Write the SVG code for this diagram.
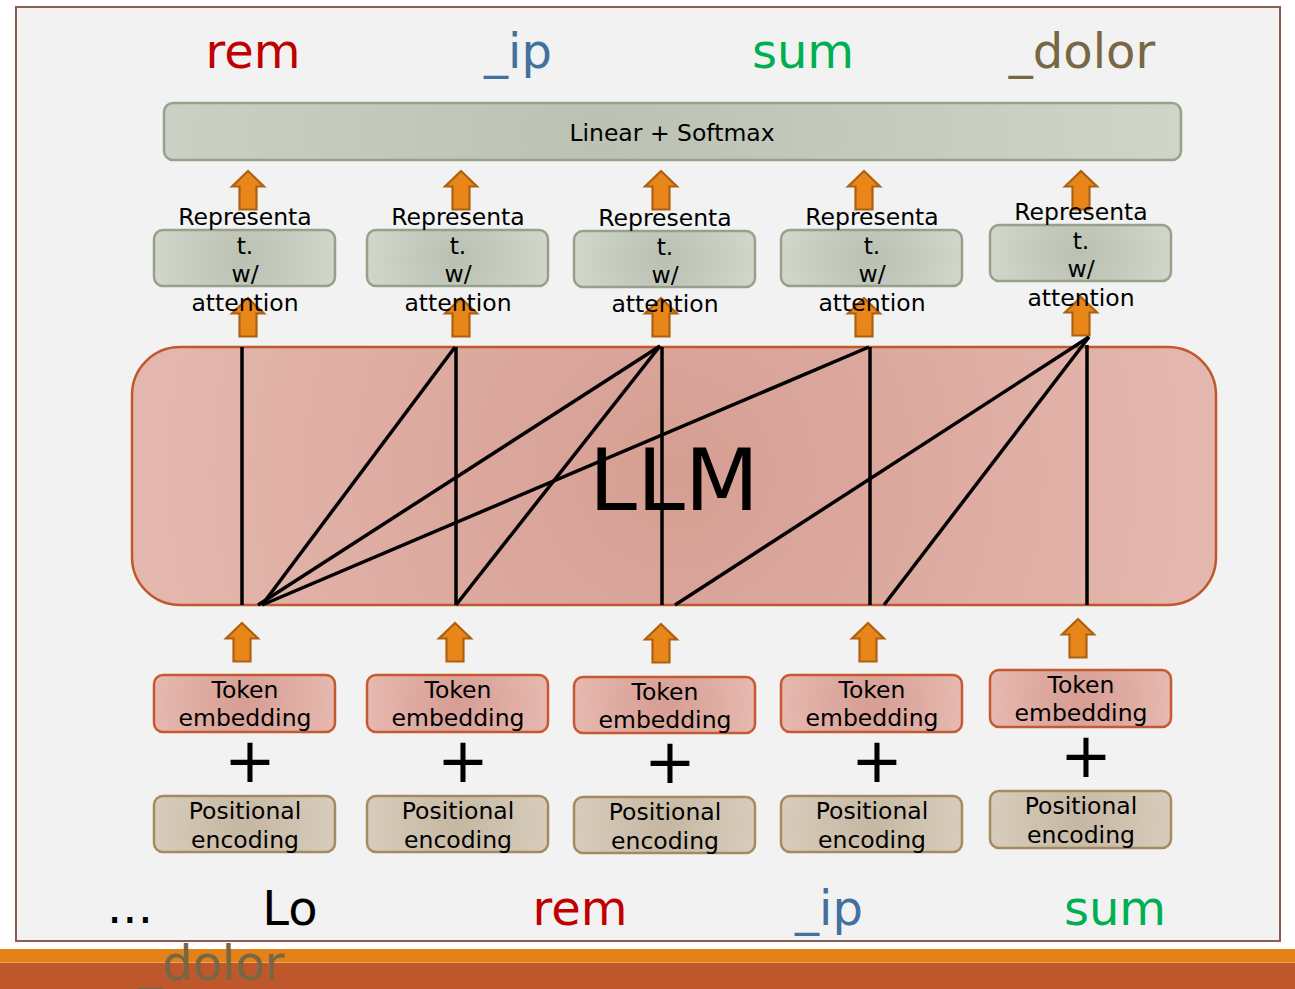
<svg xmlns="http://www.w3.org/2000/svg" xmlns:xlink="http://www.w3.org/1999/xlink" width="1295" height="989" viewBox="0 0 1295 989">
  <style>
    .lbl { font-family: "DejaVu Sans", "Liberation Sans", sans-serif; text-anchor: middle; fill: #000; }
    .small { font-size: 23.5px; }
    .word { font-family: "DejaVu Sans", "Liberation Sans", sans-serif; font-size: 48px; text-anchor: middle; }
    .red { fill: #C00000; }
    .blue { fill: #41729E; }
    .green { fill: #00B050; }
    .brown { fill: #776742; }
    .rep { fill: url(#gRep); stroke: #97A088; stroke-width: 2.5; }
    .tok { fill: url(#gTok); stroke: #C55A30; stroke-width: 2.5; }
    .pos { fill: url(#gPos); stroke: #A38B60; stroke-width: 2.5; }
    .plus { font-family: "DejaVu Sans", sans-serif; font-size: 62px; text-anchor: middle; fill: #000; }
    .att { stroke: #000; stroke-width: 3.5; fill: none; stroke-linecap: butt; }
    .blk { fill: #E8861A; stroke: #AD600F; stroke-width: 2.2; stroke-linejoin: miter; }
  </style>
  <defs>
    <!-- circular shading inside wide boxes: stretch the unit circle back by the box aspect -->
    <radialGradient id="gRep" cx="0.5" cy="0.5" r="0.5" gradientTransform="translate(0.5,0.5) scale(1,3.2) translate(-0.5,-0.5)">
      <stop offset="0" stop-color="#BAC0B2"/>
      <stop offset="1" stop-color="#D0D6CA"/>
    </radialGradient>
    <radialGradient id="gLin" cx="0.43" cy="0.5" r="0.6" gradientTransform="translate(0.43,0.5) scale(1,17.8) translate(-0.43,-0.5)">
      <stop offset="0" stop-color="#BBC1B3"/>
      <stop offset="1" stop-color="#D0D6CA"/>
    </radialGradient>
    <radialGradient id="gTok" cx="0.5" cy="0.5" r="0.5" gradientTransform="translate(0.5,0.5) scale(1,3.2) translate(-0.5,-0.5)">
      <stop offset="0" stop-color="#D69D93"/>
      <stop offset="1" stop-color="#E6B8AF"/>
    </radialGradient>
    <radialGradient id="gPos" cx="0.5" cy="0.5" r="0.5" gradientTransform="translate(0.5,0.5) scale(1,3.2) translate(-0.5,-0.5)">
      <stop offset="0" stop-color="#C5B7A1"/>
      <stop offset="1" stop-color="#D7CCBC"/>
    </radialGradient>
    <radialGradient id="gLLM" cx="0.5" cy="0.48" r="0.55" gradientTransform="translate(0.5,0.48) scale(1,4.2) translate(-0.5,-0.48)">
      <stop offset="0" stop-color="#D69E93"/>
      <stop offset="1" stop-color="#E6BAB1"/>
    </radialGradient>
    <!-- block arrow pointing up, tip at origin -->
    <path id="blkArrow" d="M0,0 L16,15.5 L8.5,15.5 L8.5,38.5 L-8.5,38.5 L-8.5,15.5 L-16,15.5 Z"/>
  </defs>

  <!-- page -->
  <rect x="0" y="0" width="1295" height="989" fill="#FFFFFF"/>
  <rect x="16" y="7" width="1264" height="934" fill="#F2F2F2" stroke="#8D5B4C" stroke-width="2"/>
  <rect x="0" y="949" width="1295" height="14" fill="#E4821A"/>
  <rect x="0" y="962" width="1295" height="1" fill="#EFA455"/>
  <rect x="0" y="963" width="1295" height="26" fill="#BE582C"/>

  <!-- predicted tokens -->
  <g id="outputs">
    <text class="word red" x="253" y="68">rem</text>
    <text class="word blue" x="518" y="68">_ip</text>
    <text class="word green" x="803" y="68">sum</text>
    <text class="word brown" x="1082" y="68">_dolor</text>
  </g>

  <g id="linear-softmax">
    <rect x="164" y="103" width="1017" height="57" rx="9" fill="url(#gLin)" stroke="#98A189" stroke-width="2.5"/>
    <text class="lbl small" x="672" y="141">Linear + Softmax</text>
  </g>

  <g id="llm">
    <rect x="132" y="347" width="1084" height="258" rx="48" fill="url(#gLLM)" stroke="#C0582C" stroke-width="2.5"/>
    <text class="lbl" x="674" y="510" font-size="86">LLM</text>
  </g>

  <!-- block arrows between stages -->
  <g id="flow-arrows" class="blk">
    <use xlink:href="#blkArrow" x="248" y="171"/>
    <use xlink:href="#blkArrow" x="461" y="171"/>
    <use xlink:href="#blkArrow" x="661" y="171"/>
    <use xlink:href="#blkArrow" x="864" y="171"/>
    <use xlink:href="#blkArrow" x="1081" y="171"/>
    <use xlink:href="#blkArrow" x="248" y="298"/>
    <use xlink:href="#blkArrow" x="461" y="298"/>
    <use xlink:href="#blkArrow" x="661" y="298"/>
    <use xlink:href="#blkArrow" x="864" y="298"/>
    <use xlink:href="#blkArrow" x="1081" y="297"/>
    <use xlink:href="#blkArrow" x="242" y="623"/>
    <use xlink:href="#blkArrow" x="455" y="623"/>
    <use xlink:href="#blkArrow" x="661" y="624"/>
    <use xlink:href="#blkArrow" x="868" y="623"/>
    <use xlink:href="#blkArrow" x="1078" y="619"/>
  </g>

  <!-- representation boxes -->
  <g id="rep-1">
    <rect class="rep" x="154" y="230" width="181" height="56" rx="9"/>
    <text class="lbl small" x="245" y="225">Representa<tspan x="245" dy="28.7">t.</tspan><tspan x="245" dy="28.7">w/</tspan><tspan x="245" dy="28.7">attention</tspan></text>
  </g>
  <g id="rep-2">
    <rect class="rep" x="367" y="230" width="181" height="56" rx="9"/>
    <text class="lbl small" x="458" y="225">Representa<tspan x="458" dy="28.7">t.</tspan><tspan x="458" dy="28.7">w/</tspan><tspan x="458" dy="28.7">attention</tspan></text>
  </g>
  <g id="rep-3">
    <rect class="rep" x="574" y="231" width="181" height="56" rx="9"/>
    <text class="lbl small" x="665" y="226">Representa<tspan x="665" dy="28.7">t.</tspan><tspan x="665" dy="28.7">w/</tspan><tspan x="665" dy="28.7">attention</tspan></text>
  </g>
  <g id="rep-4">
    <rect class="rep" x="781" y="230" width="181" height="56" rx="9"/>
    <text class="lbl small" x="872" y="225">Representa<tspan x="872" dy="28.7">t.</tspan><tspan x="872" dy="28.7">w/</tspan><tspan x="872" dy="28.7">attention</tspan></text>
  </g>
  <g id="rep-5">
    <rect class="rep" x="990" y="225" width="181" height="56" rx="9"/>
    <text class="lbl small" x="1081" y="220">Representa<tspan x="1081" dy="28.7">t.</tspan><tspan x="1081" dy="28.7">w/</tspan><tspan x="1081" dy="28.7">attention</tspan></text>
  </g>

  <!-- token embeddings -->
  <g id="tok-1">
    <rect class="tok" x="154" y="675" width="181" height="57" rx="9"/>
    <text class="lbl small" x="245" y="698">Token<tspan x="245" dy="28">embedding</tspan></text>
  </g>
  <g id="tok-2">
    <rect class="tok" x="367" y="675" width="181" height="57" rx="9"/>
    <text class="lbl small" x="458" y="698">Token<tspan x="458" dy="28">embedding</tspan></text>
  </g>
  <g id="tok-3">
    <rect class="tok" x="574" y="677" width="181" height="56" rx="9"/>
    <text class="lbl small" x="665" y="700">Token<tspan x="665" dy="28">embedding</tspan></text>
  </g>
  <g id="tok-4">
    <rect class="tok" x="781" y="675" width="181" height="57" rx="9"/>
    <text class="lbl small" x="872" y="698">Token<tspan x="872" dy="28">embedding</tspan></text>
  </g>
  <g id="tok-5">
    <rect class="tok" x="990" y="670" width="181" height="57" rx="9"/>
    <text class="lbl small" x="1081" y="693">Token<tspan x="1081" dy="28">embedding</tspan></text>
  </g>

  <!-- plus signs -->
  <g id="plus-signs">
    <text class="plus" x="250" y="782">+</text>
    <text class="plus" x="463" y="782">+</text>
    <text class="plus" x="670" y="783">+</text>
    <text class="plus" x="877" y="782">+</text>
    <text class="plus" x="1086" y="777">+</text>
  </g>

  <!-- positional encodings -->
  <g id="pos-1">
    <rect class="pos" x="154" y="796" width="181" height="56" rx="9"/>
    <text class="lbl small" x="245" y="819">Positional<tspan x="245" dy="29">encoding</tspan></text>
  </g>
  <g id="pos-2">
    <rect class="pos" x="367" y="796" width="181" height="56" rx="9"/>
    <text class="lbl small" x="458" y="819">Positional<tspan x="458" dy="29">encoding</tspan></text>
  </g>
  <g id="pos-3">
    <rect class="pos" x="574" y="797" width="181" height="56" rx="9"/>
    <text class="lbl small" x="665" y="820">Positional<tspan x="665" dy="29">encoding</tspan></text>
  </g>
  <g id="pos-4">
    <rect class="pos" x="781" y="796" width="181" height="56" rx="9"/>
    <text class="lbl small" x="872" y="819">Positional<tspan x="872" dy="29">encoding</tspan></text>
  </g>
  <g id="pos-5">
    <rect class="pos" x="990" y="791" width="181" height="57" rx="9"/>
    <text class="lbl small" x="1081" y="814">Positional<tspan x="1081" dy="29">encoding</tspan></text>
  </g>

  <!-- input tokens -->
  <g id="inputs">
    <text class="word" x="130" y="923" fill="#000">...</text>
    <text class="word" x="290" y="925" fill="#000">Lo</text>
    <text class="word red" x="580" y="925">rem</text>
    <text class="word blue" x="829" y="925">_ip</text>
    <text class="word green" x="1115" y="925">sum</text>
    <text class="word brown" x="138" y="980" style="text-anchor:start">_dolor</text>
  </g>

  <!-- attention connections inside the model -->
  <g id="connectors" class="att">
    <path d="M242,347 V605"/>
    <path d="M456,347 V605"/>
    <path d="M662,347 V605"/>
    <path d="M870,347 V605"/>
    <path d="M1087,345 V605"/>
    <path d="M262,605 L455,347"/>
    <path d="M258,605 L660,346"/>
    <path d="M262,605 L869,347"/>
    <path d="M456,605 L660,346"/>
    <path d="M675,605 L1089,337"/>
    <path d="M884,605 L1089,337"/>
  </g>
</svg>
